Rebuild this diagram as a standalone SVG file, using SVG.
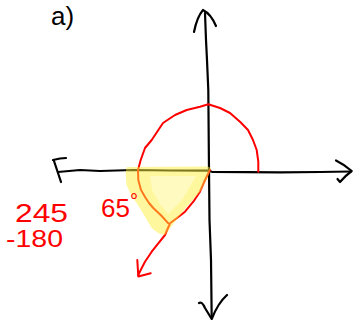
<svg xmlns="http://www.w3.org/2000/svg" width="354" height="320" viewBox="0 0 354 320">
  <style>
    .ink { fill: none; stroke: #000; stroke-width: 2.2; stroke-linecap: round; stroke-linejoin: round; }
    .red { fill: none; stroke: #f00; stroke-width: 2; stroke-linecap: round; stroke-linejoin: round; }
    .lab { font-family: "Liberation Sans", Arial, sans-serif; fill: #f00; }
    .hl { fill: #fff03c; fill-opacity: 0.5; stroke: none; }
  </style>
  <rect width="354" height="320" fill="#fff"/>

  <text id="label-a" x="51" y="25" font-family="Liberation Sans, Arial, sans-serif" font-size="26" fill="#000">a)</text>

  <g id="axes">
    <!-- horizontal axis -->
    <polyline class="ink" points="58,172 80,170 100,171 133,170 170,170.5 208,170.7 212,171.8 280,172.3 320,172 351,171.5"/>
    <!-- left hook -->
    <polyline class="ink" points="53,160 60,158.5 66,158"/>
    <polyline class="ink" points="54,161 57,170 61,182"/>
    <!-- right arrowhead -->
    <path class="ink" d="M336,160.5 Q345,165 351.7,171 Q345,176 340,182 L337.5,179"/>
    <!-- vertical axis -->
    <polyline class="ink" points="205,13 206,40 207,60 208.3,90 209,170 209.5,220 211,260 211.7,318"/>
    <!-- top arrowhead -->
    <path class="ink" d="M194,32 Q197,17 203,10 Q211,14 216,26"/>
    <!-- bottom arrowhead -->
    <path class="ink" d="M199,303 Q202,301 205,308 L211.7,319 Q218,303 227,295"/>
  </g>

  <g id="angle">
    <!-- arc -->
    <polyline class="red" points="258.3,171.7 258.3,161.7 256.7,150 253,140 248,130 240,121.7 230,113 220,108 208.3,104.3 200,106.7 186.7,110 175,115 163,123 151.7,140 145,148 140.7,160 138,170 138.3,180 141,190 145.7,198 149,203 153.3,208 161.7,216 168.3,223.3"/>
    <!-- radius from origin and terminal arrow -->
    <polyline class="red" points="210,170 205,180 200,191.7 193.3,201.7 185,211.7 176.7,218.3 170,223.3 168,228 165,235 158.3,243.3 151.7,251.7 145,261.7 140.7,270 138.3,275"/>
    <polyline class="red" points="137.3,260 138.3,276.5 150.7,273.3"/>
  </g>

  <g id="highlight">
    <path class="hl" d="M127,167 L208,166.5 L211,168 L208.3,176 L201.7,190 L186.7,206.7 L175,221.7 L165,235 L158.3,233.3 L151.7,228 L145,216.7 L138,205 L131,195 L126.5,185 L125.5,172 Z"/>
    <path d="M150,176 L196,176 L182,200 L168,214 L160,204 L152,190 Z" fill="#fff" fill-opacity="0.35"/>
  </g>

  <g id="labels">
    <text class="lab" x="15" y="222" font-size="26" textLength="53" lengthAdjust="spacingAndGlyphs">245</text>
    <text class="lab" x="6" y="247" font-size="24" textLength="57" lengthAdjust="spacingAndGlyphs">-180</text>
    <text class="lab" x="101" y="217" font-size="26">65<tspan dy="-9" font-size="20">°</tspan></text>
  </g>
</svg>
